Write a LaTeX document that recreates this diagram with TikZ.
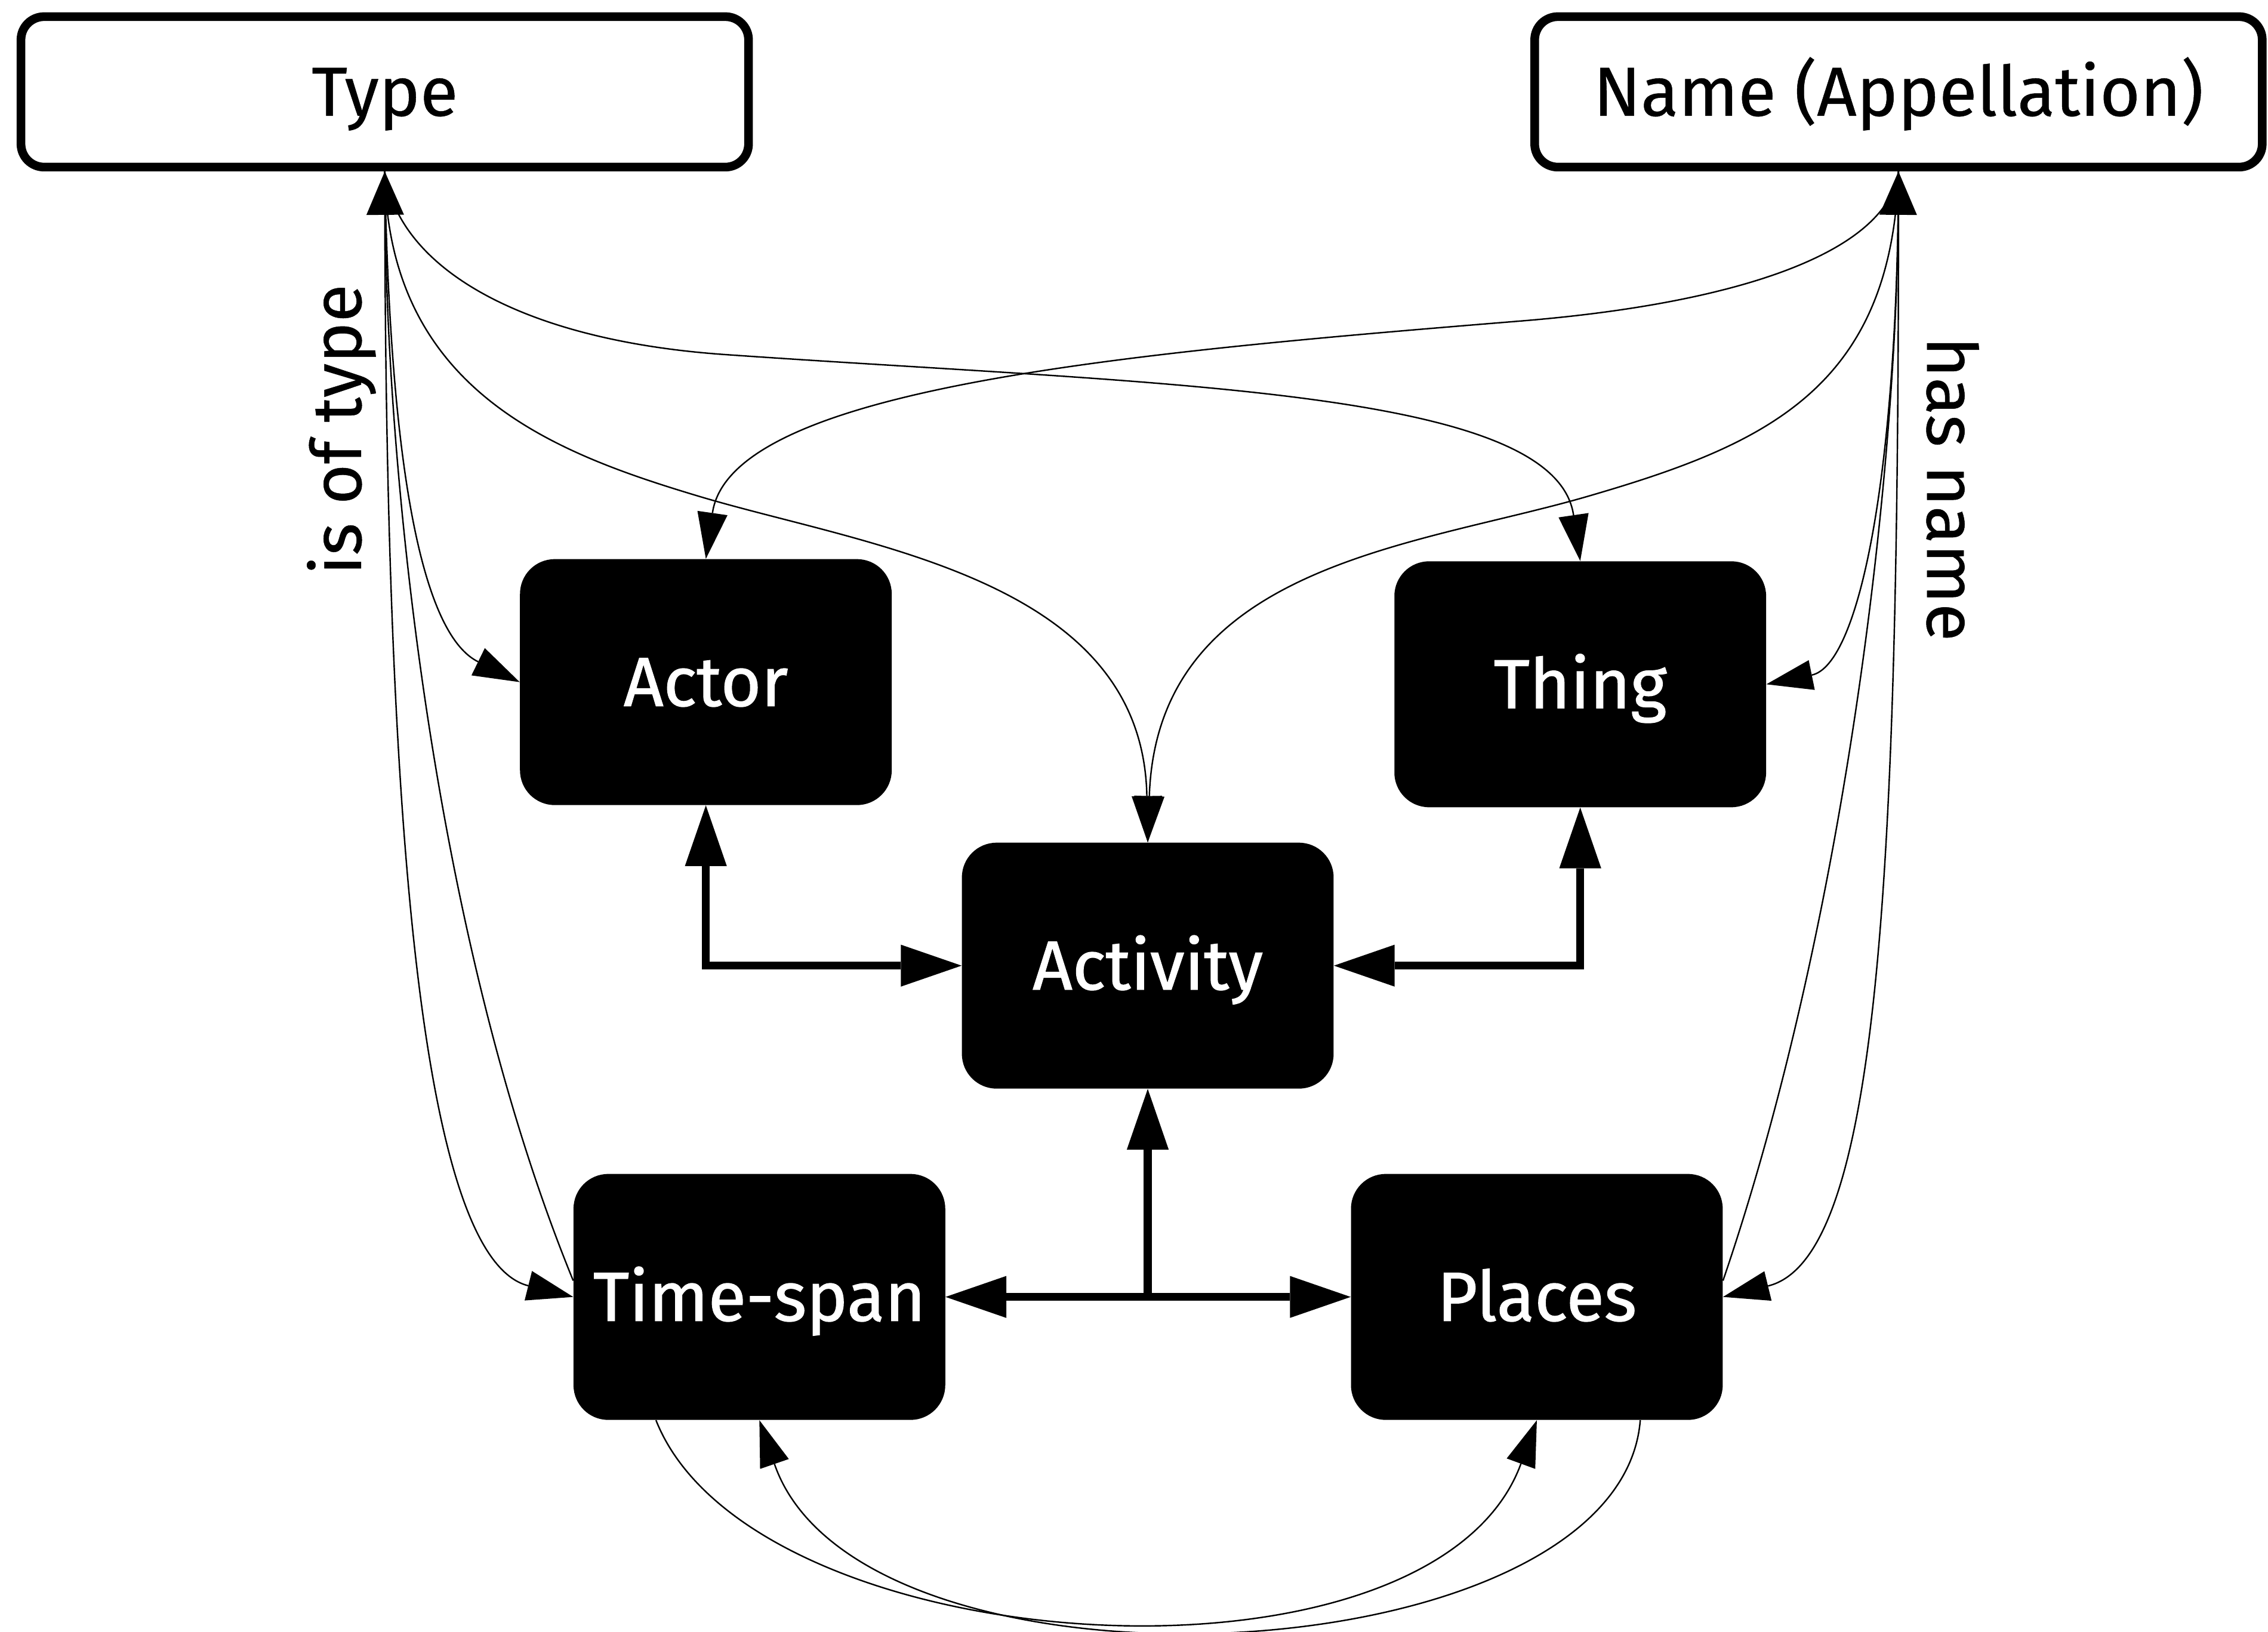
\documentclass[tikz,border=0pt]{standalone}
\usepackage{fontspec}
\setmainfont{Fira Sans}[FakeBold=0.4]
\newfontfamily\boxfont{Fira Sans}[FakeBold=1.1]
\usetikzlibrary{arrows.meta}
\newcommand\figfont{\fontsize{48}{56}\selectfont}
\begin{document}
\begin{tikzpicture}[x=1pt,y=-1pt,
  wbox/.style={draw=black, line width=6pt, rounded corners=16pt, fill=white,
    minimum width=503pt, minimum height=104pt, inner sep=0pt, font=\figfont,
    text height=33pt, text depth=0pt},
  bbox/.style={fill=black, text=white, rounded corners=24pt,
    minimum width=257pt, minimum height=170pt, inner sep=0pt, font=\boxfont\figfont,
    text height=33pt, text depth=0pt},
  rel/.style={font=\figfont, inner sep=0pt},
  link/.style={line width=1pt, -{Triangle[length=32pt,width=21pt,line width=0pt]}},
  tlink/.style={line width=1pt, -{Triangle[length=30pt,width=26pt,line width=0pt]}},
  bond/.style={line width=5.5pt, {Triangle[length=42pt,width=29pt,line width=0pt]}-{Triangle[length=42pt,width=29pt,line width=0pt]}},
  flow/.style={line width=5.5pt, -{Triangle[length=42pt,width=29pt,line width=0pt]}},
]
\useasboundingbox (0,0) rectangle (1568,1128);

\node[wbox] (type) at (266,63.5) {Type};
\node[wbox] (name) at (1312.5,63.5) {Name (Appellation)};
\node[bbox] (actor) at (488,471.5) {Actor};
\node[bbox] (thing) at (1092.5,473) {Thing};
\node[bbox] (activity) at (793.5,667.5) {Activity};
\node[bbox] (timespan) at (525,896.5) {Time-span};
\node[bbox] (places) at (1062.5,896.5) {Places};
\node[rel, rotate=90] (istype) at (236,297) {is of type};
\node[rel, rotate=-90] (hasname) at (1350,338) {has name};

% thick connectors
\draw[bond] (actor.south) |- (activity.west);
\draw[bond] (thing.south) |- (activity.east);
\draw[bond] (timespan.east) -- (places.west);
\coordinate (hub) at (activity.south |- timespan.east);
\draw[flow] (hub) -- (activity.south);

% is of type
\draw[link] (type.south) .. controls (270,340) and (295,440) .. (actor.west);
\draw[link] (type.south) .. controls (266,560) and (290,870) .. (timespan.west);
\draw[tlink] (timespan.175) .. controls (300,650) and (268,330) .. (type.south);
\draw[link] (type.south) .. controls (268,270) and (383,313) .. (483,343)
  .. controls (600,378) and (790,400) .. (activity.north);
\draw[link] (type.south) .. controls (275,185) and (360,235) .. (500,245)
  .. controls (800,266) and (1075,268) .. (thing.north);

% has name
\draw[link] (name.south) .. controls (1305,175) and (1200,210) .. (1050,222)
  .. controls (780,244) and (505,268) .. (actor.north);
\draw[link] (name.south) .. controls (1308,270) and (1218,308) .. (1098,343)
  .. controls (978,378) and (800,390) .. (activity.north);
\draw[link] (name.south) .. controls (1312,330) and (1285,460) .. (thing.east);
\draw[link] (name.south) .. controls (1313,600) and (1300,870) .. (places.east);
\draw[tlink] (places.5) .. controls (1275,640) and (1311,330) .. (name.south);

% bottom
\draw[link] (timespan.230) .. controls (520,1150) and (990,1180) .. (places.south);
\draw[link] (places.310) .. controls (1120,1160) and (595,1185) .. (timespan.south);
\end{tikzpicture}
\end{document}
